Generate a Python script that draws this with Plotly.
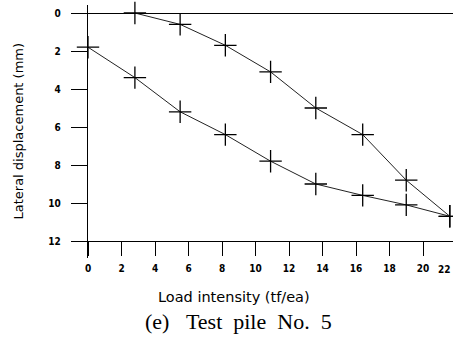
import plotly.graph_objects as go

# Data
upper_load = [2.8, 5.5, 8.2, 10.9, 13.6, 16.4, 19.0, 21.6]
upper_disp = [0.0, 0.6, 1.7, 3.1, 5.0, 6.4, 8.8, 10.7]
lower_load = [0.0, 2.8, 5.5, 8.2, 10.9, 13.6, 16.4, 19.0, 21.6]
lower_disp = [1.8, 3.4, 5.2, 6.4, 7.8, 9.0, 9.6, 10.1, 10.7]
x_ticks = [0, 2, 4, 6, 8, 10, 12, 14, 16, 18, 20]
y_ticks = [0, 2, 4, 6, 8, 10, 12]
x_last_tick = 22

W, H = 453, 347
L, R, T, B = 88, 0, 5, 89
plot_w = W - L - R
plot_h = H - T - B
px_per_x = 16.75
px_per_y = 19.0
x_max = plot_w / px_per_x
y_top = -(13 - T) / px_per_y
y_bot = 12 + (H - B - 241) / px_per_y
x_axis_pos = (y_bot - 12) / (y_bot - y_top)

tick_font = dict(family="Liberation Sans Narrow, DejaVu Sans Condensed, Arial Narrow, sans-serif",
                 size=10, color="black", weight="bold")
NB = "\u00a0"

fig = go.Figure()
for xs, ys in [(upper_load, upper_disp), (lower_load, lower_disp)]:
    fig.add_trace(go.Scatter(
        x=xs, y=ys, mode="lines+markers",
        line=dict(color="#222", width=1),
        marker=dict(symbol="cross-thin", size=16, line=dict(color="black", width=1.3)),
        showlegend=False, cliponaxis=False,
    ))

fig.update_layout(
    width=W, height=H,
    margin=dict(l=L, r=R, t=T, b=B),
    paper_bgcolor="white", plot_bgcolor="white",
    xaxis=dict(range=[0, x_max], tickvals=x_ticks, ticks="outside", ticklen=14,
               tickwidth=1.3, tickcolor="black", showline=True, linecolor="black",
               linewidth=1.3, showgrid=False, zeroline=False, anchor="free",
               position=x_axis_pos, tickfont=tick_font, ticklabelstandoff=4),
    yaxis=dict(range=[y_bot, y_top], tickvals=y_ticks, ticks="outside", ticklen=16,
               tickwidth=1.3, tickcolor="black", showline=True, linecolor="black",
               linewidth=1.3, showgrid=False, zeroline=True, zerolinecolor="black",
               zerolinewidth=1.3, tickfont=tick_font, ticklabelstandoff=8),
    annotations=[
        dict(text=str(x_last_tick), x=1, xref="paper",
             y=(H - B - 269) / plot_h, yref="paper",
             showarrow=False, font=tick_font, xanchor="right", yanchor="middle"),
        dict(text="Lateral displacement (mm)", textangle=-90,
             x=(18 - L) / plot_w, xref="paper", y=0.5, yref="paper",
             showarrow=False, xanchor="center", yanchor="middle",
             font=dict(family="DejaVu Sans, sans-serif", size=13, color="black")),
        dict(text="Load intensity (tf/ea)",
             x=(234 - L) / plot_w, xref="paper", y=(H - B - 297) / plot_h, yref="paper",
             showarrow=False, xanchor="center", yanchor="middle",
             font=dict(family="DejaVu Sans, sans-serif", size=14.5, color="black")),
        dict(text="(e)" + NB * 3 + "Test" + NB * 2 + "pile" + NB * 2 + "No." + NB * 2 + "5",
             x=(238 - L) / plot_w, xref="paper", y=(H - B - 322) / plot_h, yref="paper",
             showarrow=False, xanchor="center", yanchor="middle",
             font=dict(family="Liberation Serif, Times New Roman, serif", size=22, color="black")),
    ],
)

fig.write_html("out.html", config=dict(displayModeBar=False),
               post_script="document.body.style.margin='0';document.body.style.overflow='hidden';")
